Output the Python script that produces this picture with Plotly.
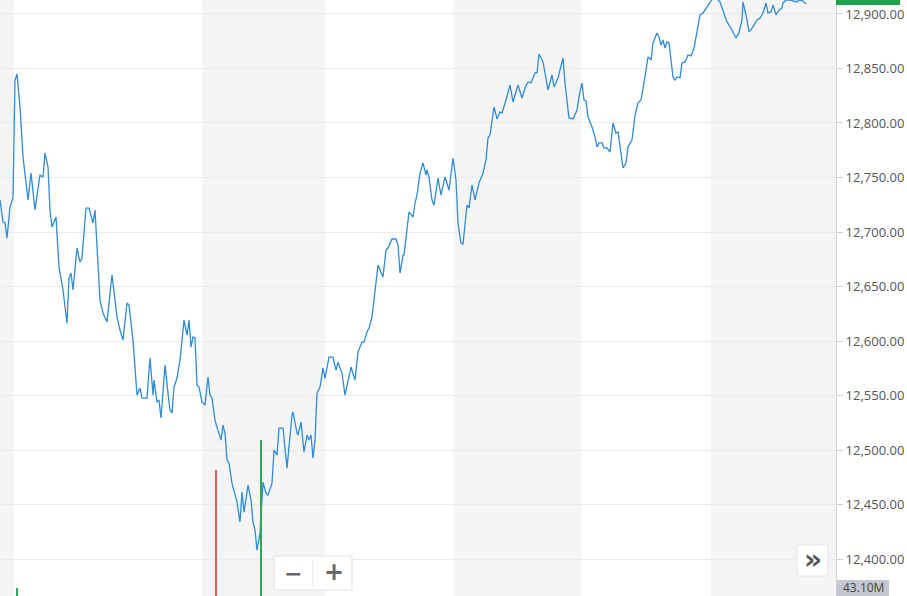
import plotly.graph_objects as go

# time index (session-relative position) and index level
t = [0, 3, 5, 7, 10, 13, 15, 17, 20, 23, 28, 31, 35, 40, 43, 45, 48, 50, 52, 56,
     59, 63, 67, 69, 71, 73, 77, 80, 82, 86, 89, 93, 95, 100, 103, 107, 112, 117, 120, 123,
     127, 129, 133, 137, 140, 142, 147, 150, 153, 154, 157, 159, 161, 165, 168, 170, 172, 174, 177, 180,
     184, 187, 189, 191, 193, 195, 197, 199, 202, 205, 208, 210, 212, 215, 217, 221, 223, 225, 227, 229,
     232, 234, 237, 240, 242, 244, 248, 251, 253, 255, 257, 260, 263, 266, 268, 272, 274, 277, 279, 283,
     287, 292, 293, 297, 298, 301, 304, 307, 309, 311, 313, 315, 317, 320, 323, 325, 329, 333, 336, 338,
     342, 345, 348, 351, 355, 358, 362, 364, 367, 369, 372, 375, 378, 383, 386, 388, 392, 396, 398, 400,
     403, 404, 407, 409, 413, 415, 417, 420, 423, 426, 427, 429, 432, 434, 438, 441, 445, 449, 453, 456,
     458, 461, 463, 467, 469, 472, 475, 479, 483, 486, 488, 490, 494, 497, 500, 502, 506, 510, 513, 518,
     522, 525, 528, 531, 535, 537, 539, 542, 543, 548, 552, 554, 558, 563, 565, 569, 573, 577, 579, 582,
     584, 586, 588, 592, 595, 597, 599, 602, 604, 607, 610, 613, 616, 618, 620, 623, 626, 628, 632, 635,
     638, 641, 645, 648, 651, 653, 657, 659, 661, 663, 665, 667, 669, 673, 675, 677, 680, 682, 685, 688,
     691, 694, 697, 700, 703, 707, 710, 713, 717, 720, 727, 732, 736, 739, 742, 743, 747, 749, 753, 757,
     760, 763, 766, 768, 771, 773, 776, 779, 782, 783, 786, 790, 797, 799, 803, 806]

price = [12729.4, 12709.2, 12708.3, 12694.5, 12722.9, 12731.2, 12839.4, 12845.0, 12814.7, 12768.8,
         12729.4, 12754.1, 12720.2, 12752.3, 12750.5, 12772.5, 12759.6, 12720.2, 12704.6, 12713.8,
         12667.9, 12646.8, 12616.5, 12657.8, 12662.4, 12646.8, 12685.3, 12672.5, 12676.2, 12722.0,
         12722.0, 12708.3, 12720.2, 12637.6, 12625.7, 12617.4, 12660.6, 12622.0, 12610.1, 12600.9,
         12634.9, 12633.0, 12600.9, 12550.5, 12556.9, 12547.7, 12547.7, 12584.4, 12550.5, 12564.2,
         12544.0, 12545.9, 12529.4, 12578.0, 12552.3, 12536.7, 12534.0, 12557.8, 12566.1, 12582.6,
         12619.3, 12605.5, 12619.3, 12594.5, 12603.7, 12602.8, 12559.6, 12557.8, 12544.0, 12541.3,
         12567.0, 12550.5, 12547.7, 12527.5, 12521.1, 12509.2, 12522.9, 12515.6, 12490.8, 12488.1,
         12469.7, 12463.3, 12452.3, 12434.0, 12461.5, 12443.1, 12467.9, 12454.1, 12434.0, 12426.6,
         12408.3, 12423.9, 12470.6, 12460.6, 12458.7, 12469.7, 12500.0, 12495.4, 12520.2, 12520.2,
         12483.5, 12532.1, 12534.9, 12515.6, 12513.8, 12525.7, 12498.2, 12513.8, 12509.2, 12513.8,
         12492.7, 12509.2, 12552.3, 12557.8, 12575.2, 12566.1, 12585.3, 12585.3, 12573.4, 12580.7,
         12570.6, 12550.5, 12562.4, 12576.2, 12564.2, 12589.9, 12599.1, 12599.1, 12608.3, 12611.9,
         12622.0, 12646.8, 12669.7, 12658.7, 12683.5, 12685.3, 12693.6, 12693.6, 12688.1, 12662.4,
         12678.9, 12678.9, 12701.8, 12718.3, 12713.8, 12726.6, 12733.9, 12754.1, 12763.3, 12752.3,
         12756.9, 12750.5, 12729.4, 12724.8, 12749.5, 12733.9, 12750.5, 12738.5, 12767.9, 12747.7,
         12708.3, 12689.9, 12689.0, 12724.8, 12722.0, 12743.1, 12729.4, 12745.0, 12754.1, 12766.1,
         12786.2, 12789.0, 12814.7, 12803.7, 12810.1, 12809.2, 12821.1, 12834.9, 12819.3, 12834.9,
         12822.9, 12832.1, 12837.6, 12836.7, 12845.9, 12845.9, 12863.3, 12856.9, 12856.0, 12830.3,
         12844.0, 12833.0, 12841.3, 12859.6, 12836.7, 12804.6, 12803.7, 12811.9, 12823.9, 12836.7,
         12821.1, 12820.2, 12805.5, 12796.3, 12787.2, 12778.0, 12781.7, 12781.7, 12777.1, 12777.1,
         12773.4, 12800.0, 12790.8, 12791.7, 12777.1, 12758.7, 12763.3, 12778.0, 12784.4, 12807.3,
         12818.3, 12821.1, 12842.2, 12860.6, 12857.8, 12873.4, 12882.6, 12878.9, 12871.6, 12876.1,
         12868.8, 12874.3, 12873.4, 12842.2, 12839.4, 12842.2, 12841.3, 12855.0, 12856.0, 12862.4,
         12861.5, 12868.8, 12883.5, 12899.1, 12900.9, 12906.4, 12911.0, 12914.7, 12913.8, 12911.0,
         12892.7, 12885.3, 12878.0, 12882.6, 12894.5, 12911.0, 12894.5, 12883.5, 12888.1, 12894.5,
         12896.3, 12900.9, 12910.1, 12900.9, 12901.8, 12908.3, 12899.1, 12903.7, 12905.5, 12910.1,
         12912.8, 12912.8, 12911.0, 12912.8, 12911.9, 12909.2]

# volume (millions)
vol_t = [17, 216, 261]
vol_m = [13, 211, 262]
vol_color = ["#2aa852", "#e05a5a", "#2aa852"]

# session shading (grey sessions)
grey_sessions = [(-5, 14), (202, 325), (454, 581), (711, 836)]

y_ticks = [12400, 12450, 12500, 12550, 12600, 12650, 12700, 12750, 12800, 12850, 12900]

W, H = 907, 596
x_right = 836 / W

fig = go.Figure()

fig.add_trace(go.Bar(x=vol_t, y=vol_m, width=1.3, marker=dict(color=vol_color, line=dict(width=0)),
                     yaxis="y2", hoverinfo="skip", showlegend=False))
fig.add_trace(go.Scatter(x=t, y=price, mode="lines",
                         line=dict(color="#2f8cd8", width=1.3), showlegend=False))

shapes = []
for a, b in grey_sessions:
    shapes.append(dict(type="rect", xref="x", yref="paper", x0=a, x1=b, y0=0, y1=1,
                       fillcolor="#f5f5f5", line=dict(width=0), layer="below"))
# current price badge (mostly above view)
shapes.append(dict(type="rect", xref="paper", yref="paper", x0=x_right, x1=900 / W,
                   y0=1 - 5 / H, y1=1.05, fillcolor="#1f9e4b", line=dict(width=0)))
# volume label box
shapes.append(dict(type="rect", xref="paper", yref="paper", x0=837 / W, x1=889 / W,
                   y0=-0.01, y1=1 - 580 / H, fillcolor="#c3c7cf", line=dict(width=0)))
# zoom buttons box
shapes.append(dict(type="rect", xref="paper", yref="paper", x0=274 / W, x1=352 / W,
                   y0=1 - 590 / H, y1=1 - 556 / H, fillcolor="white",
                   line=dict(color="#e3e3e3", width=1)))
shapes.append(dict(type="line", xref="paper", yref="paper", x0=313 / W, x1=313 / W,
                   y0=1 - 587 / H, y1=1 - 559 / H, line=dict(color="#e6e6e6", width=1)))
# scroll button
shapes.append(dict(type="rect", xref="paper", yref="paper", x0=797 / W, x1=828 / W,
                   y0=1 - 576 / H, y1=1 - 545 / H, fillcolor="white",
                   line=dict(color="#e3e3e3", width=1)))

def ann(x, y, text, size, color, family="DejaVu Sans"):
    return dict(xref="paper", yref="paper", x=x / W, y=1 - y / H, text=text, showarrow=False,
                xanchor="center", yanchor="middle", borderpad=0,
                font=dict(size=size, color=color, family=family))

annotations = [
    ann(293, 573, "<b>−</b>", 22, "#666"),
    ann(334, 572, "<b>+</b>", 24, "#666"),
    ann(812.5, 559, "<b>»</b>", 28, "#555"),
    ann(863, 587, "43.10M", 12, "#444", "Open Sans"),
]

fig.update_layout(
    width=W, height=H,
    margin=dict(l=0, r=0, t=0, b=0),
    paper_bgcolor="white", plot_bgcolor="white",
    showlegend=False,
    hovermode=False,
    shapes=shapes,
    annotations=annotations,
    bargap=0,
    xaxis=dict(domain=[0, x_right], range=[0, 836], showgrid=False, zeroline=False,
               showticklabels=False, ticks="", showline=False, fixedrange=True),
    yaxis=dict(side="right", range=[12366.2, 12912.8], tickvals=y_ticks,
               tickformat=",.2f", showgrid=True, gridcolor="#ebebeb", gridwidth=1,
               zeroline=False, showline=True, linecolor="#d4d4d4", linewidth=1,
               ticks="outside", ticklen=6, tickcolor="#cfcfcf",
               tickfont=dict(family="Open Sans", size=13, color="#555")),
    yaxis2=dict(overlaying="y", side="right", range=[0, 1000], visible=False),
)

fig.write_html("out.html", config={"displayModeBar": False},
               post_script="document.body.style.margin='0';document.body.style.overflow='hidden';")
